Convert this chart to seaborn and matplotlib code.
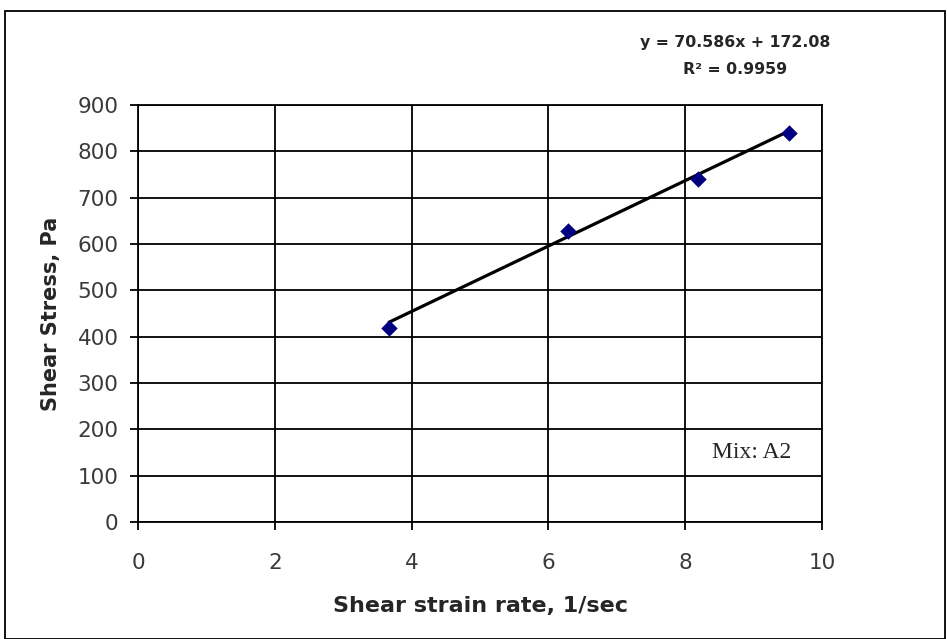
import numpy as np
import pandas as pd
import matplotlib
matplotlib.use("Agg")
import matplotlib.pyplot as plt
from matplotlib.patches import Rectangle
import seaborn as sns

# Measured points
strain_rate = [3.67, 6.29, 8.19, 9.52]
shear_stress = [418, 629, 740, 840]

# Linear trendline reported on the chart
slope = 70.586
intercept = 172.08
r_squared = 0.9959

x_ticks = [0, 2, 4, 6, 8, 10]
y_ticks = [0, 100, 200, 300, 400, 500, 600, 700, 800, 900]

sns.set_style("white")
plt.rcParams["font.family"] = ["DejaVu Sans"]

W, H = 947, 639
fig = plt.figure(figsize=(W / 100, H / 100), dpi=100)
ax = fig.add_axes([138 / W, 1 - 522 / H, (822 - 138) / W, (522 - 105) / H])

df = pd.DataFrame({"rate": strain_rate, "stress": shear_stress})

# Trendline across the data range
fit_x = np.array([min(strain_rate), max(strain_rate)])
fit_df = pd.DataFrame({"rate": fit_x, "stress": slope * fit_x + intercept})
sns.lineplot(data=fit_df, x="rate", y="stress", ax=ax, color="black", lw=2.3, zorder=3)

sns.scatterplot(data=df, x="rate", y="stress", ax=ax, marker="D", s=70,
                color="#000080", edgecolor="#000080", linewidth=0, zorder=4)

ax.set_xlim(0, 10)
ax.set_ylim(0, 900)
ax.set_xticks(x_ticks)
ax.set_yticks(y_ticks)
tick_font = dict(fontsize=15.5, color="#3a3a3a", family=["DejaVu Sans"])
ax.set_xticklabels([str(t) for t in x_ticks], **tick_font)
ax.set_yticklabels([str(t) for t in y_ticks], **tick_font)
ax.tick_params(axis="both", direction="out", length=6, width=1.3, color="black",
               bottom=True, left=True)
ax.tick_params(axis="x", pad=16)
ax.tick_params(axis="y", pad=8)

ax.grid(True, color="black", lw=1.3)
ax.set_axisbelow(True)
for side in ["left", "bottom", "right", "top"]:
    ax.spines[side].set_visible(True)
    ax.spines[side].set_color("black")
    ax.spines[side].set_linewidth(1.3)

ax.set_xlabel("Shear strain rate, 1/sec", labelpad=17, fontsize=16, fontweight="bold")
ax.set_ylabel("Shear Stress, Pa", labelpad=12, fontsize=15, fontweight="bold")

# Equation of the trendline
eq_font = dict(fontsize=11.3, fontweight="bold", ha="center", va="center")
fig.text(735 / W, 1 - 43 / H, f"y = {slope}x + {intercept}", **eq_font)
fig.text(735 / W, 1 - 70 / H, f"R² = {r_squared}", **eq_font)

fig.text(752 / W, 1 - 452 / H, "Mix: A2", ha="center", va="center", fontsize=17,
         family=["Liberation Serif", "DejaVu Serif"])

# Chart frame
fig.patches.append(Rectangle((5 / W, 0), 940 / W, 1 - 11 / H, transform=fig.transFigure,
                             fill=False, edgecolor="black", lw=1.3))

fig.savefig("out.png", dpi=100)
